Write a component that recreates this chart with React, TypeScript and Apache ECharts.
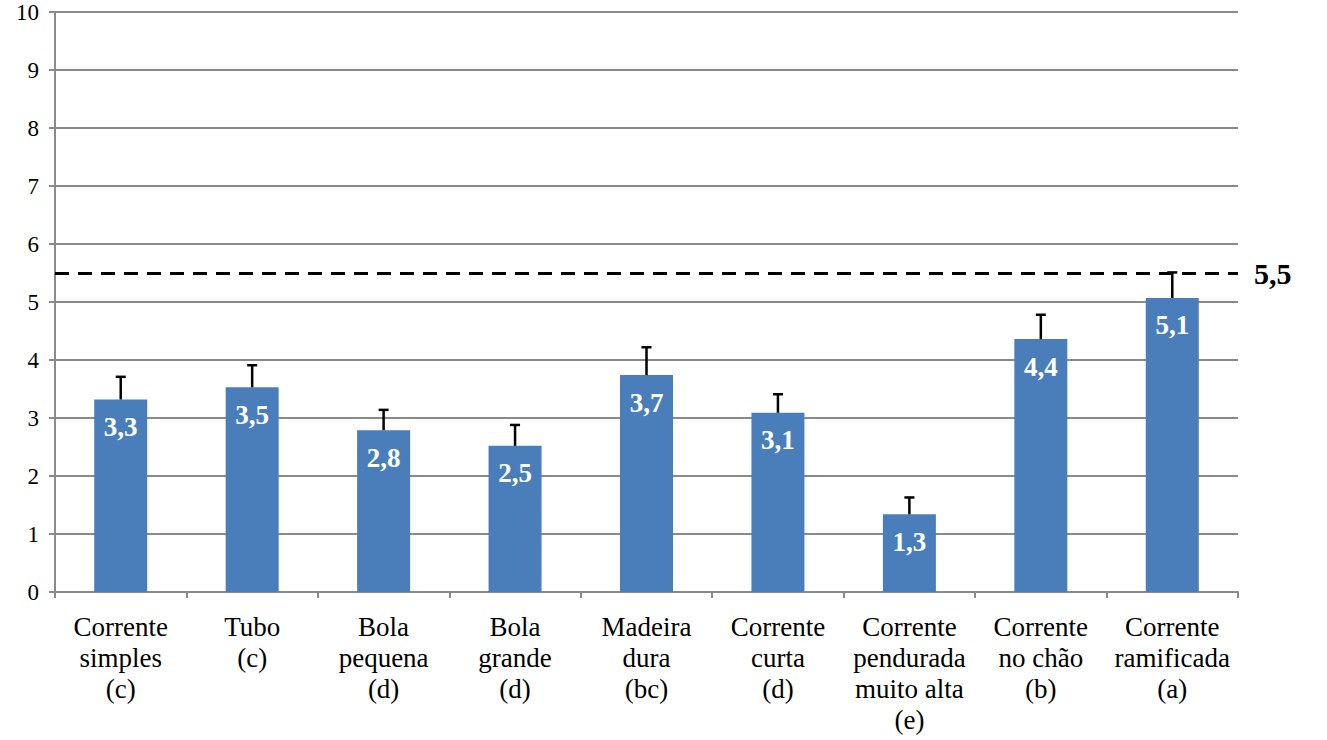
import React, { useEffect, useRef } from "react";
import * as echarts from "echarts";

const categories = [
  "Corrente\nsimples\n(c)",
  "Tubo\n(c)",
  "Bola\npequena\n(d)",
  "Bola\ngrande\n(d)",
  "Madeira\ndura\n(bc)",
  "Corrente\ncurta\n(d)",
  "Corrente\npendurada\nmuito alta\n(e)",
  "Corrente\nno chão\n(b)",
  "Corrente\nramificada\n(a)",
];
const means = [3.32, 3.53, 2.79, 2.52, 3.74, 3.09, 1.34, 4.36, 5.07];
const upper = [3.71, 3.91, 3.14, 2.88, 4.22, 3.41, 1.63, 4.78, 5.51];
const referenceValue = 5.5;
const referenceLabel = "5,5";
const yTicks = [0, 10, 1];

const FONT = "serif";

export default function App() {
  const ref = useRef<HTMLDivElement>(null);
  useEffect(() => {
    if (!ref.current) return;
    const chart = echarts.init(ref.current, undefined, { renderer: "svg" });
    const errData = means.map((m, i) => [i, m, upper[i]]);
    chart.setOption({
      animation: false,
      backgroundColor: "#ffffff",
      textStyle: { fontFamily: FONT },
      grid: { left: 55, right: 89, top: 12, bottom: 148, containLabel: false },
      xAxis: {
        type: "category",
        data: categories,
        axisLine: { show: true, lineStyle: { color: "#8a8a8a", width: 2 } },
        axisTick: { show: true, length: 6, lineStyle: { color: "#8a8a8a", width: 2 } },
        axisLabel: {
          interval: 0,
          margin: 19,
          color: "#000",
          fontFamily: FONT,
          fontSize: 27,
          lineHeight: 31,
          align: "center",
        },
      },
      yAxis: {
        type: "value",
        min: yTicks[0],
        max: yTicks[1],
        interval: yTicks[2],
        axisLine: { show: true, lineStyle: { color: "#8a8a8a", width: 2 } },
        axisTick: { show: true, length: 6, lineStyle: { color: "#8a8a8a", width: 2 } },
        splitLine: { show: true, lineStyle: { color: "#8a8a8a", width: 2 } },
        axisLabel: { color: "#000", fontFamily: FONT, fontSize: 23, margin: 16 },
      },
      series: [
        {
          type: "bar",
          data: means,
          barWidth: 53,
          itemStyle: { color: "#4a7ebb" },
          label: {
            show: true,
            position: "insideTop",
            distance: 14,
            color: "#ffffff",
            fontFamily: FONT,
            fontWeight: "bold",
            fontSize: 27,
            formatter: (p: any) => Number(p.value).toFixed(1).replace(".", ","),
          },
          markLine: {
            silent: true,
            symbol: "none",
            data: [{ yAxis: referenceValue }],
            lineStyle: { color: "#000", width: 3, type: [14, 9] },
            label: {
              show: true,
              position: "end",
              distance: 16,
              formatter: referenceLabel,
              color: "#000",
              fontFamily: FONT,
              fontWeight: "bold",
              fontSize: 30,
            },
          },
          z: 2,
        },
        {
          type: "custom",
          data: errData,
          z: 3,
          renderItem: (params: any, api: any) => {
            const x = api.value(0);
            const lo = api.coord([x, api.value(1)]);
            const hi = api.coord([x, api.value(2)]);
            const half = 5;
            return {
              type: "group",
              children: [
                {
                  type: "line",
                  shape: { x1: lo[0], y1: lo[1], x2: hi[0], y2: hi[1] },
                  style: { stroke: "#000", lineWidth: 2.5 },
                },
                {
                  type: "line",
                  shape: { x1: hi[0] - half, y1: hi[1], x2: hi[0] + half, y2: hi[1] },
                  style: { stroke: "#000", lineWidth: 2.5 },
                },
              ],
            };
          },
        },
      ],
    });
    return () => chart.dispose();
  }, []);
  return (
    <div
      ref={ref}
      style={{ position: "fixed", left: 0, top: 0, width: 1327, height: 740 }}
    />
  );
}
